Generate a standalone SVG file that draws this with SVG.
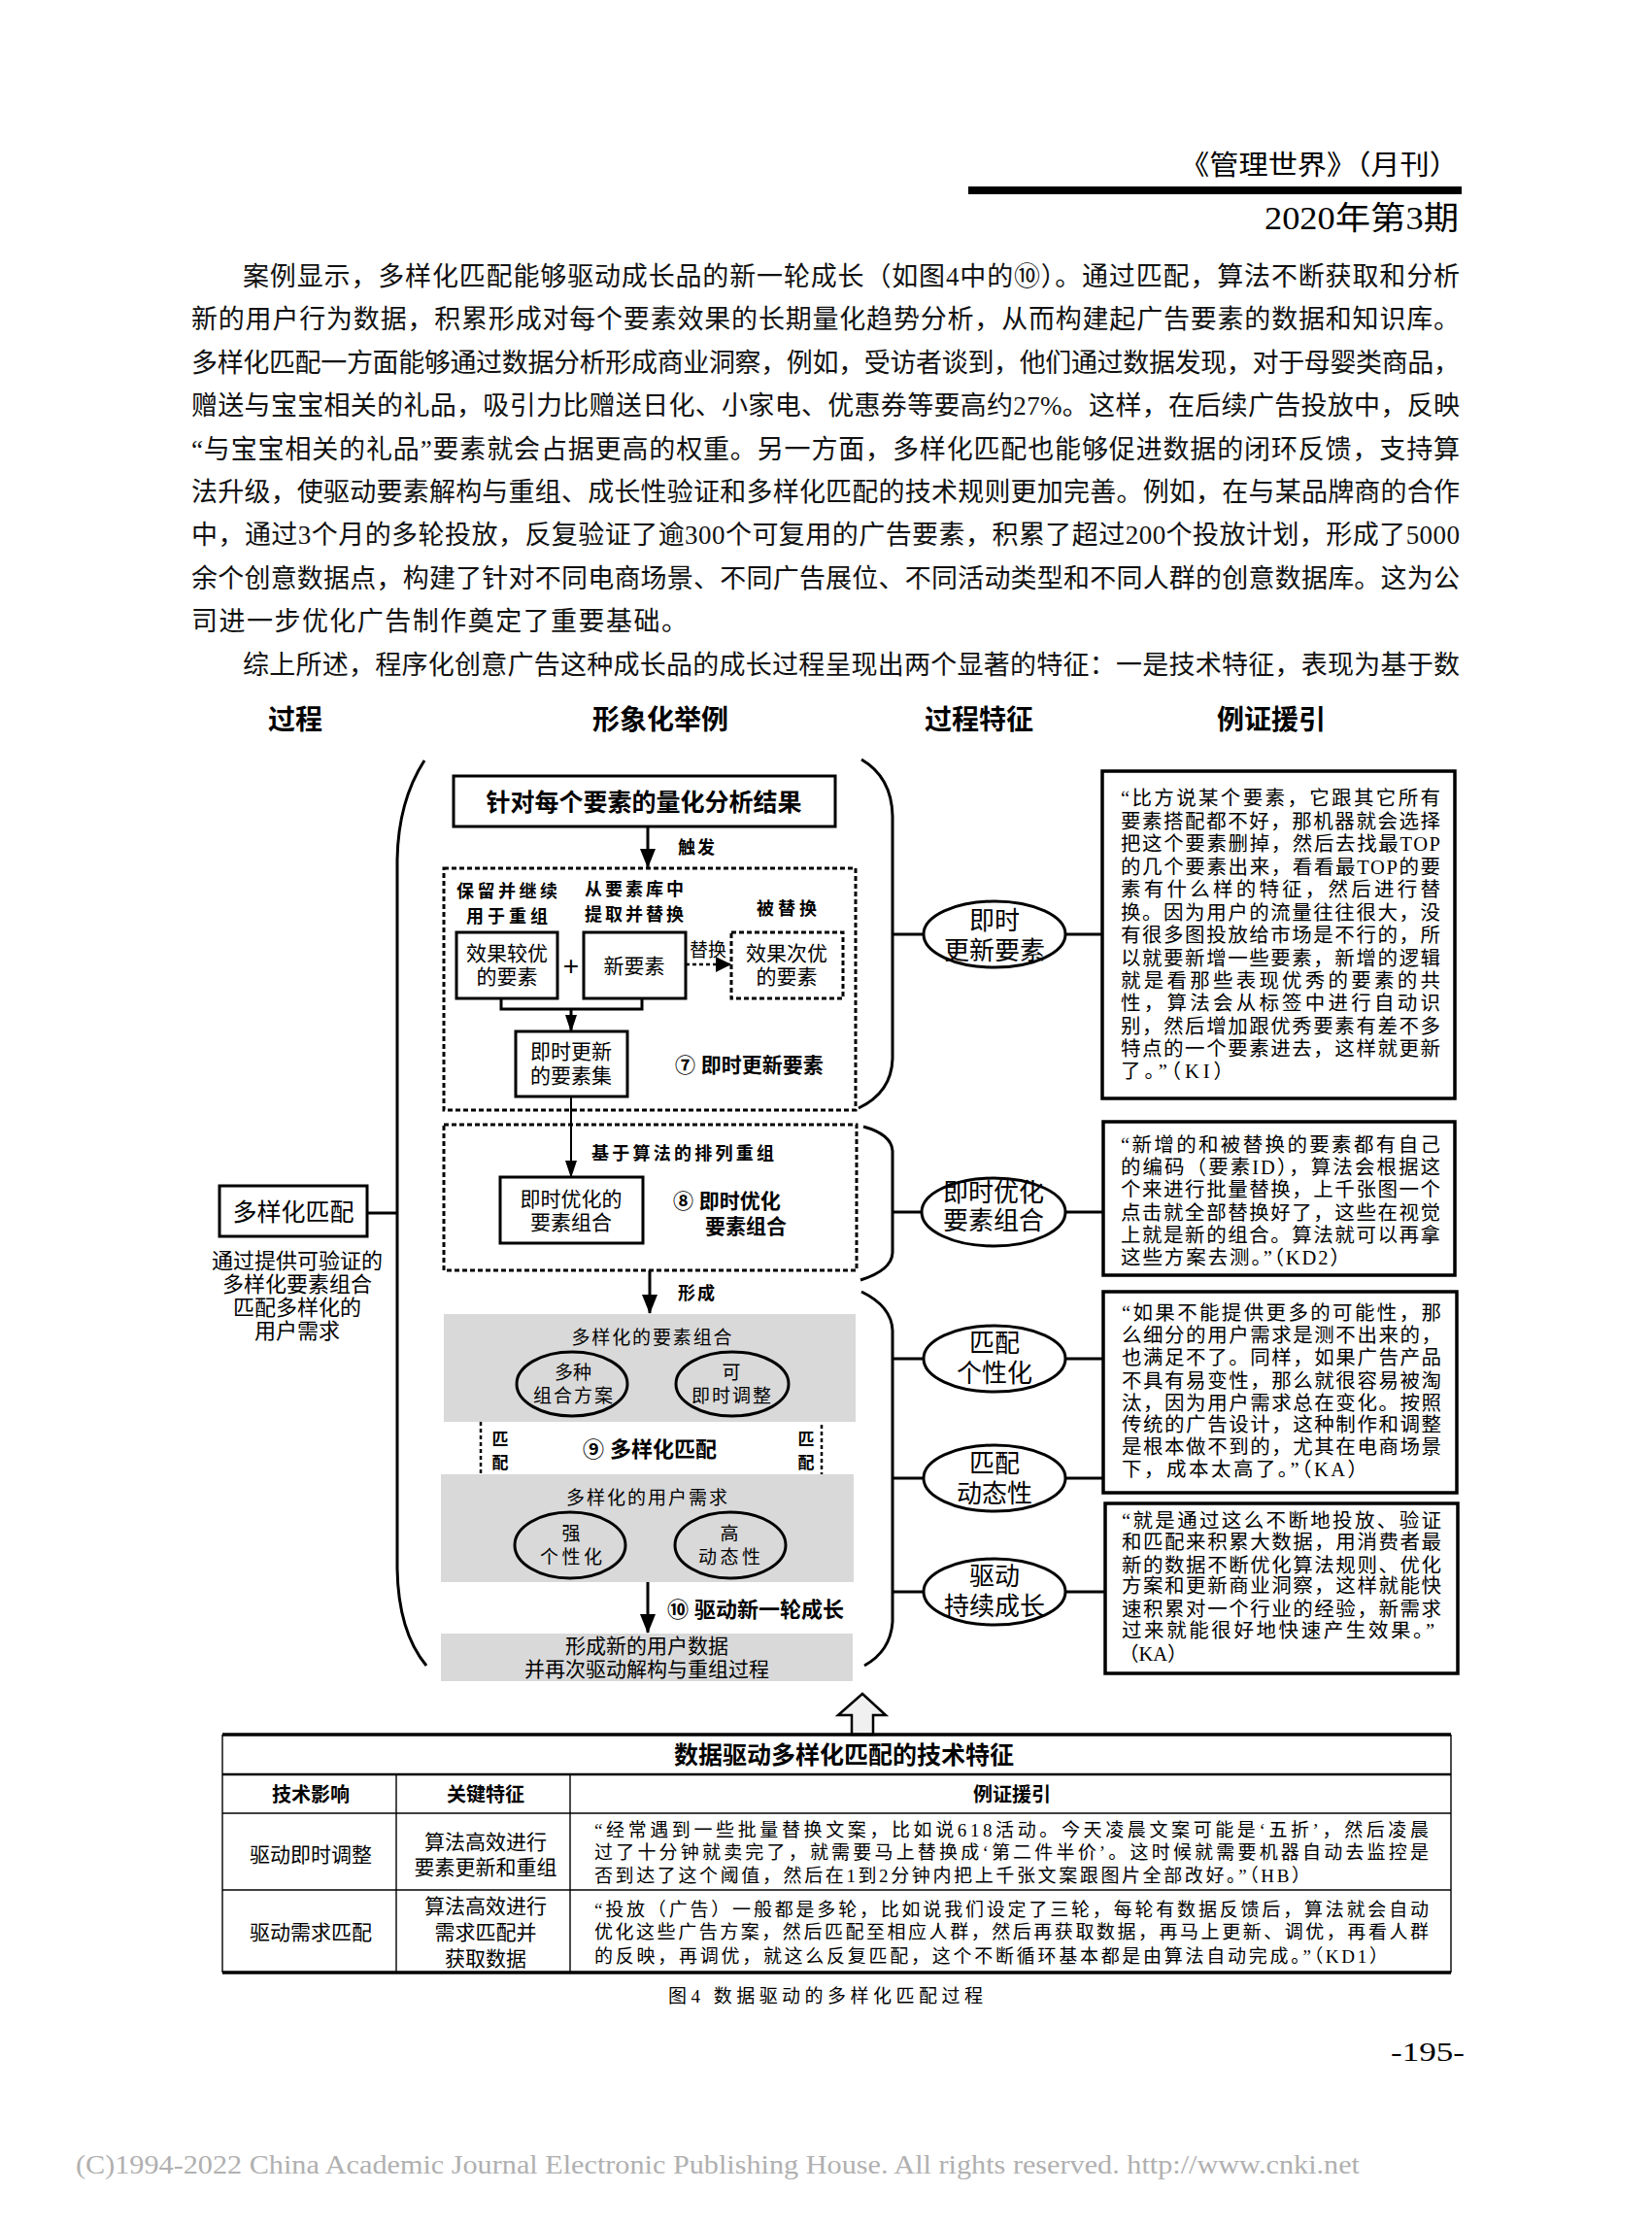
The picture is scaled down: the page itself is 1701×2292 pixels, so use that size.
<svg xmlns="http://www.w3.org/2000/svg" width="1701" height="2292" viewBox="0 0 1701 2292">
<defs>
<style>
.body{font-family:'Liberation Serif','Noto Sans CJK SC',serif;font-size:27px;fill:#111}
.s{font-family:'Liberation Sans','Noto Sans CJK SC',sans-serif;fill:#000}
.sr{font-family:'Liberation Serif','Noto Sans CJK SC',serif;fill:#000}
.b{font-weight:bold}
.m{text-anchor:middle}
.box{fill:#fff;stroke:#000;stroke-width:3}
.qbox{fill:#fff;stroke:#000;stroke-width:3.5}
.dash{fill:none;stroke:#000;stroke-width:3;stroke-dasharray:5 3}
.dot{fill:none;stroke:#000;stroke-width:2.5;stroke-dasharray:4 3}
.ln{fill:none;stroke:#000;stroke-width:3}
.thin{fill:none;stroke:#000;stroke-width:1.4}
.grey{fill:#d9d9d9}
.ell{fill:#fff;stroke:#000;stroke-width:3}
.ellg{fill:#d9d9d9;stroke:#000;stroke-width:3}
.q{font-family:'Liberation Serif','Noto Sans CJK SC',serif;font-size:20.5px;fill:#000}
.tq{font-family:'Liberation Serif','Noto Sans CJK SC',serif;font-size:19px;fill:#000}
</style>
<marker id="aL" viewBox="0 0 20 16" markerWidth="20" markerHeight="16" refX="19" refY="8" orient="auto" markerUnits="userSpaceOnUse"><path d="M0,0 L20,8 L0,16 Z" fill="#000"/></marker>
<marker id="aS" viewBox="0 0 18 12" markerWidth="18" markerHeight="12" refX="17" refY="6" orient="auto" markerUnits="userSpaceOnUse"><path d="M0,0 L18,6 L0,12 Z" fill="#000"/></marker>
<marker id="aD" viewBox="0 0 16 16" markerWidth="16" markerHeight="16" refX="15" refY="8" orient="auto" markerUnits="userSpaceOnUse"><path d="M0,0 L16,8 L0,16 Z" fill="#000"/></marker>
</defs>
<rect width="1701" height="2292" fill="#fff"/>

<g id="page-header">
<text class="sr" x="1502" y="180" font-size="28" text-anchor="end" textLength="287" lengthAdjust="spacingAndGlyphs">《管理世界》（月刊）</text>
<rect x="997" y="192" width="508" height="8" fill="#000"/>
<text class="sr" x="1502" y="236" font-size="33" text-anchor="end" textLength="200" lengthAdjust="spacingAndGlyphs">2020年第3期</text>
</g>

<g id="body-text">
<text class="body" x="250" y="294" textLength="1253" lengthAdjust="spacing">案例显示，多样化匹配能够驱动成长品的新一轮成长（如图4中的⑩）。通过匹配，算法不断获取和分析</text>
<text class="body" x="197" y="338" textLength="1306" lengthAdjust="spacing">新的用户行为数据，积累形成对每个要素效果的长期量化趋势分析，从而构建起广告要素的数据和知识库。</text>
<text class="body" x="197" y="383" textLength="1306" lengthAdjust="spacing">多样化匹配一方面能够通过数据分析形成商业洞察，例如，受访者谈到，他们通过数据发现，对于母婴类商品，</text>
<text class="body" x="197" y="427" textLength="1306" lengthAdjust="spacing">赠送与宝宝相关的礼品，吸引力比赠送日化、小家电、优惠券等要高约27%。这样，在后续广告投放中，反映</text>
<text class="body" x="197" y="472" textLength="1306" lengthAdjust="spacing">“与宝宝相关的礼品”要素就会占据更高的权重。另一方面，多样化匹配也能够促进数据的闭环反馈，支持算</text>
<text class="body" x="197" y="516" textLength="1306" lengthAdjust="spacing">法升级，使驱动要素解构与重组、成长性验证和多样化匹配的技术规则更加完善。例如，在与某品牌商的合作</text>
<text class="body" x="197" y="560" textLength="1306" lengthAdjust="spacing">中，通过3个月的多轮投放，反复验证了逾300个可复用的广告要素，积累了超过200个投放计划，形成了5000</text>
<text class="body" x="197" y="605" textLength="1306" lengthAdjust="spacing">余个创意数据点，构建了针对不同电商场景、不同广告展位、不同活动类型和不同人群的创意数据库。这为公</text>
<text class="body" x="197" y="649" textLength="511" lengthAdjust="spacing">司进一步优化广告制作奠定了重要基础。</text>
<text class="body" x="250" y="694" textLength="1253" lengthAdjust="spacing">综上所述，程序化创意广告这种成长品的成长过程呈现出两个显著的特征：一是技术特征，表现为基于数</text>
</g>

<g id="column-headers">
<text class="s b m" x="304" y="751" font-size="28">过程</text>
<text class="s b m" x="680" y="751" font-size="28">形象化举例</text>
<text class="s b m" x="1008" y="751" font-size="28">过程特征</text>
<text class="s b m" x="1309" y="751" font-size="28">例证援引</text>
</g>

<g id="connectors">
<path class="ln" d="M437,783 Q410,825 409,885 L409,1615 Q410,1680 439,1715"/>
<path class="ln" d="M887,782 Q918,800 919,840 L919,1090 Q918,1125 884,1141"/>
<path class="ln" d="M889,1160 Q918,1168 919,1185 L919,1290 Q918,1308 886,1318"/>
<path class="ln" d="M887,1330 Q918,1345 919,1370 L919,1670 Q917,1700 890,1715"/>
<line class="ln" x1="378" y1="1249" x2="409" y2="1249"/>
<line class="ln" x1="919" y1="962" x2="951" y2="962"/>
<line class="ln" x1="1097" y1="962" x2="1135" y2="962"/>
<line class="ln" x1="919" y1="1248" x2="950" y2="1248"/>
<line class="ln" x1="1097" y1="1248" x2="1136" y2="1248"/>
<line class="ln" x1="919" y1="1399" x2="951" y2="1399"/>
<line class="ln" x1="1098" y1="1399" x2="1136" y2="1399"/>
<line class="ln" x1="919" y1="1522" x2="951" y2="1522"/>
<line class="ln" x1="1098" y1="1522" x2="1136" y2="1522"/>
<line class="ln" x1="919" y1="1639" x2="951" y2="1639"/>
<line class="ln" x1="1098" y1="1639" x2="1138" y2="1639"/>
<line class="ln" x1="667" y1="851" x2="667" y2="893" marker-end="url(#aL)"/>
<path class="ln" d="M516,1028 V1039 H661 V1028"/>
<line class="ln" x1="588" y1="1039" x2="588" y2="1062" marker-end="url(#aS)"/>
<line x1="588" y1="1129" x2="588" y2="1212" stroke="#000" stroke-width="2" marker-end="url(#aS)"/>
<line class="ln" x1="669" y1="1308" x2="669" y2="1352" marker-end="url(#aL)"/>
<line class="ln" x1="667" y1="1629" x2="667" y2="1681" marker-end="url(#aL)"/>
<line class="dot" x1="706" y1="993" x2="752" y2="993" marker-end="url(#aD)"/>
<path class="dot" d="M532,1424 H495 V1588 H529" marker-end="url(#aD)"/>
<path class="dot" d="M812,1424 H846 V1588 H811" marker-end="url(#aD)"/>
<polygon points="888,1744 912,1766 899,1766 899,1786 877,1786 877,1766 863,1766" fill="#f0f0f0" stroke="#000" stroke-width="2.5"/>
</g>

<g id="node-multimatch">
<rect class="box" x="226" y="1221" width="152" height="52"/>
<text class="s m" x="302" y="1257" font-size="25">多样化匹配</text>
<text class="s m" x="306" y="1306" font-size="22">通过提供可验证的</text>
<text class="s m" x="306" y="1330" font-size="22">多样化要素组合</text>
<text class="s m" x="306" y="1354" font-size="22">匹配多样化的</text>
<text class="s m" x="306" y="1378" font-size="22">用户需求</text>
</g>

<g id="node-quant">
<rect class="box" x="467" y="799" width="393" height="52"/>
<text class="s b m" x="663" y="835" font-size="25">针对每个要素的量化分析结果</text>
<text class="s b" x="698" y="879" font-size="18" textLength="38" lengthAdjust="spacing">触发</text>
</g>

<g id="node-step7">
<rect class="dash" x="457" y="894" width="424" height="249"/>
<text class="s b m" x="522" y="924" font-size="18" textLength="104" lengthAdjust="spacing">保留并继续</text>
<text class="s b m" x="522" y="950" font-size="18" textLength="84" lengthAdjust="spacing">用于重组</text>
<text class="s b m" x="653" y="922" font-size="18" textLength="102" lengthAdjust="spacing">从要素库中</text>
<text class="s b m" x="653" y="948" font-size="18" textLength="102" lengthAdjust="spacing">提取并替换</text>
<text class="s b m" x="810" y="942" font-size="18" textLength="62" lengthAdjust="spacing">被替换</text>
<rect class="box" x="470" y="960" width="104" height="68"/>
<text class="s m" x="522" y="989" font-size="21">效果较优</text>
<text class="s m" x="522" y="1013" font-size="21">的要素</text>
<text class="s m" x="588" y="1004" font-size="28">+</text>
<rect class="box" x="601" y="960" width="105" height="68"/>
<text class="s m" x="653" y="1002" font-size="21">新要素</text>
<text class="s m" x="729" y="985" font-size="19">替换</text>
<rect class="dash" x="753" y="960" width="115" height="68"/>
<text class="s m" x="810" y="989" font-size="21">效果次优</text>
<text class="s m" x="810" y="1013" font-size="21">的要素</text>
<rect class="box" x="531" y="1062" width="115" height="67"/>
<text class="s m" x="588" y="1090" font-size="21">即时更新</text>
<text class="s m" x="588" y="1115" font-size="21">的要素集</text>
<text class="s b" x="695" y="1104" font-size="21">⑦ 即时更新要素</text>
</g>

<g id="node-step8">
<rect class="dash" x="457" y="1158" width="425" height="150"/>
<text class="s b" x="609" y="1194" font-size="18" textLength="188" lengthAdjust="spacing">基于算法的排列重组</text>
<rect class="box" x="515" y="1212" width="147" height="68"/>
<text class="s m" x="588" y="1242" font-size="21">即时优化的</text>
<text class="s m" x="588" y="1266" font-size="21">要素组合</text>
<text class="s b" x="693" y="1244" font-size="21">⑧ 即时优化</text>
<text class="s b" x="726" y="1270" font-size="21">要素组合</text>
<text class="s b" x="698" y="1338" font-size="18" textLength="38" lengthAdjust="spacing">形成</text>
</g>

<g id="node-step9">
<rect class="grey" x="457" y="1353" width="424" height="111"/>
<text class="s m" x="671" y="1384" font-size="19" textLength="165" lengthAdjust="spacing">多样化的要素组合</text>
<ellipse class="ellg" cx="589" cy="1425" rx="57" ry="33"/>
<text class="s m" x="590" y="1420" font-size="19">多种</text>
<text class="s m" x="590" y="1444" font-size="19" textLength="82" lengthAdjust="spacing">组合方案</text>
<ellipse class="ellg" cx="754" cy="1425" rx="58" ry="33"/>
<text class="s m" x="753" y="1420" font-size="19">可</text>
<text class="s m" x="753" y="1444" font-size="19" textLength="82" lengthAdjust="spacing">即时调整</text>
<text class="s b m" x="515" y="1488" font-size="17">匹</text>
<text class="s b m" x="515" y="1512" font-size="17">配</text>
<text class="s b m" x="830" y="1488" font-size="17">匹</text>
<text class="s b m" x="830" y="1512" font-size="17">配</text>
<text class="s b" x="600" y="1500" font-size="22">⑨ 多样化匹配</text>
<rect class="grey" x="454" y="1518" width="425" height="111"/>
<text class="s m" x="666" y="1549" font-size="19" textLength="166" lengthAdjust="spacing">多样化的用户需求</text>
<ellipse class="ellg" cx="587" cy="1591" rx="57" ry="34"/>
<text class="s m" x="588" y="1586" font-size="19">强</text>
<text class="s m" x="588" y="1610" font-size="19" textLength="64" lengthAdjust="spacing">个性化</text>
<ellipse class="ellg" cx="752" cy="1591" rx="57" ry="34"/>
<text class="s m" x="751" y="1586" font-size="19">高</text>
<text class="s m" x="751" y="1610" font-size="19" textLength="64" lengthAdjust="spacing">动态性</text>
</g>

<g id="node-step10">
<text class="s b" x="687" y="1665" font-size="22">⑩ 驱动新一轮成长</text>
<rect class="grey" x="454" y="1682" width="424" height="49"/>
<text class="s m" x="666" y="1702" font-size="21">形成新的用户数据</text>
<text class="s m" x="666" y="1726" font-size="21">并再次驱动解构与重组过程</text>
</g>

<g id="node-feature1">
<ellipse class="ell" cx="1024" cy="962" rx="73" ry="34"/>
<text class="s m" x="1024" y="957" font-size="26">即时</text>
<text class="s m" x="1024" y="988" font-size="26">更新要素</text>
</g>
<g id="node-feature2">
<ellipse class="ell" cx="1023" cy="1248" rx="74" ry="35"/>
<text class="s m" x="1023" y="1237" font-size="26">即时优化</text>
<text class="s m" x="1023" y="1266" font-size="26">要素组合</text>
</g>
<g id="node-feature3">
<ellipse class="ell" cx="1024" cy="1399" rx="73" ry="34"/>
<text class="s m" x="1024" y="1392" font-size="26">匹配</text>
<text class="s m" x="1024" y="1423" font-size="26">个性化</text>
</g>
<g id="node-feature4">
<ellipse class="ell" cx="1024" cy="1522" rx="73" ry="34"/>
<text class="s m" x="1024" y="1516" font-size="26">匹配</text>
<text class="s m" x="1024" y="1547" font-size="26">动态性</text>
</g>
<g id="node-feature5">
<ellipse class="ell" cx="1024" cy="1639" rx="73" ry="34"/>
<text class="s m" x="1024" y="1632" font-size="26">驱动</text>
<text class="s m" x="1024" y="1663" font-size="26">持续成长</text>
</g>

<g id="node-quote1">
<rect class="qbox" x="1135" y="794" width="363" height="337"/>
<text class="q" x="1154" y="829" textLength="329" lengthAdjust="spacing">“比方说某个要素，它跟其它所有</text>
<text class="q" x="1154" y="853" textLength="329" lengthAdjust="spacing">要素搭配都不好，那机器就会选择</text>
<text class="q" x="1154" y="876" textLength="329" lengthAdjust="spacing">把这个要素删掉，然后去找最TOP</text>
<text class="q" x="1154" y="900" textLength="329" lengthAdjust="spacing">的几个要素出来，看看最TOP的要</text>
<text class="q" x="1154" y="923" textLength="329" lengthAdjust="spacing">素有什么样的特征，然后进行替</text>
<text class="q" x="1154" y="947" textLength="329" lengthAdjust="spacing">换。因为用户的流量往往很大，没</text>
<text class="q" x="1154" y="970" textLength="329" lengthAdjust="spacing">有很多图投放给市场是不行的，所</text>
<text class="q" x="1154" y="994" textLength="329" lengthAdjust="spacing">以就要新增一些要素，新增的逻辑</text>
<text class="q" x="1154" y="1017" textLength="329" lengthAdjust="spacing">就是看那些表现优秀的要素的共</text>
<text class="q" x="1154" y="1040" textLength="329" lengthAdjust="spacing">性，算法会从标签中进行自动识</text>
<text class="q" x="1154" y="1064" textLength="329" lengthAdjust="spacing">别，然后增加跟优秀要素有差不多</text>
<text class="q" x="1154" y="1087" textLength="329" lengthAdjust="spacing">特点的一个要素进去，这样就更新</text>
<text class="q" x="1154" y="1110" textLength="116" lengthAdjust="spacing">了。”（KI）</text>
</g>

<g id="node-quote2">
<rect class="qbox" x="1136" y="1155" width="362" height="158"/>
<text class="q" x="1154" y="1186" textLength="329" lengthAdjust="spacing">“新增的和被替换的要素都有自己</text>
<text class="q" x="1154" y="1209" textLength="329" lengthAdjust="spacing">的编码（要素ID），算法会根据这</text>
<text class="q" x="1154" y="1232" textLength="329" lengthAdjust="spacing">个来进行批量替换，上千张图一个</text>
<text class="q" x="1154" y="1256" textLength="329" lengthAdjust="spacing">点击就全部替换好了，这些在视觉</text>
<text class="q" x="1154" y="1279" textLength="329" lengthAdjust="spacing">上就是新的组合。算法就可以再拿</text>
<text class="q" x="1154" y="1302" textLength="236" lengthAdjust="spacing">这些方案去测。”（KD2）</text>
</g>

<g id="node-quote3">
<rect class="qbox" x="1136" y="1330" width="364" height="207"/>
<text class="q" x="1155" y="1359" textLength="329" lengthAdjust="spacing">“如果不能提供更多的可能性，那</text>
<text class="q" x="1155" y="1382" textLength="329" lengthAdjust="spacing">么细分的用户需求是测不出来的，</text>
<text class="q" x="1155" y="1405" textLength="329" lengthAdjust="spacing">也满足不了。同样，如果广告产品</text>
<text class="q" x="1155" y="1429" textLength="329" lengthAdjust="spacing">不具有易变性，那么就很容易被淘</text>
<text class="q" x="1155" y="1452" textLength="329" lengthAdjust="spacing">汰，因为用户需求总在变化。按照</text>
<text class="q" x="1155" y="1474" textLength="329" lengthAdjust="spacing">传统的广告设计，这种制作和调整</text>
<text class="q" x="1155" y="1497" textLength="329" lengthAdjust="spacing">是根本做不到的，尤其在电商场景</text>
<text class="q" x="1155" y="1520" textLength="253" lengthAdjust="spacing">下，成本太高了。”（KA）</text>
</g>

<g id="node-quote4">
<rect class="qbox" x="1138" y="1548" width="363" height="175"/>
<text class="q" x="1155" y="1573" textLength="329" lengthAdjust="spacing">“就是通过这么不断地投放、验证</text>
<text class="q" x="1155" y="1595" textLength="329" lengthAdjust="spacing">和匹配来积累大数据，用消费者最</text>
<text class="q" x="1155" y="1619" textLength="329" lengthAdjust="spacing">新的数据不断优化算法规则、优化</text>
<text class="q" x="1155" y="1640" textLength="329" lengthAdjust="spacing">方案和更新商业洞察，这样就能快</text>
<text class="q" x="1155" y="1664" textLength="329" lengthAdjust="spacing">速积累对一个行业的经验，新需求</text>
<text class="q" x="1155" y="1686" textLength="322" lengthAdjust="spacing">过来就能很好地快速产生效果。”</text>
<text class="q" x="1152" y="1710">（KA）</text>
</g>

<g id="node-table">
<line x1="229" y1="1786" x2="1494" y2="1786" stroke="#000" stroke-width="3.5"/>
<line x1="229" y1="1827" x2="1494" y2="1827" stroke="#000" stroke-width="2.5"/>
<line class="thin" x1="229" y1="1867" x2="1494" y2="1867"/>
<line class="thin" x1="229" y1="1946" x2="1494" y2="1946"/>
<line x1="229" y1="2031" x2="1494" y2="2031" stroke="#000" stroke-width="3.5"/>
<line class="thin" x1="229" y1="1786" x2="229" y2="2031"/>
<line class="thin" x1="1494" y1="1786" x2="1494" y2="2031"/>
<line class="thin" x1="408" y1="1827" x2="408" y2="2031"/>
<line class="thin" x1="587" y1="1827" x2="587" y2="2031"/>
<text class="s b m" x="869" y="1816" font-size="25">数据驱动多样化匹配的技术特征</text>
<text class="s b m" x="320" y="1855" font-size="20">技术影响</text>
<text class="s b m" x="500" y="1855" font-size="20">关键特征</text>
<text class="s b m" x="1042" y="1855" font-size="20">例证援引</text>
<text class="s m" x="320" y="1917" font-size="21">驱动即时调整</text>
<text class="s m" x="500" y="1904" font-size="21">算法高效进行</text>
<text class="s m" x="500" y="1930" font-size="21">要素更新和重组</text>
<text class="tq" x="612" y="1891" textLength="859" lengthAdjust="spacing">“经常遇到一些批量替换文案，比如说618活动。今天凌晨文案可能是‘五折’，然后凌晨</text>
<text class="tq" x="612" y="1914" textLength="859" lengthAdjust="spacing">过了十分钟就卖完了，就需要马上替换成‘第二件半价’。这时候就需要机器自动去监控是</text>
<text class="tq" x="612" y="1938" textLength="737" lengthAdjust="spacing">否到达了这个阈值，然后在1到2分钟内把上千张文案跟图片全部改好。”（HB）</text>
<text class="s m" x="320" y="1997" font-size="21">驱动需求匹配</text>
<text class="s m" x="500" y="1970" font-size="21">算法高效进行</text>
<text class="s m" x="500" y="1997" font-size="21">需求匹配并</text>
<text class="s m" x="500" y="2024" font-size="21">获取数据</text>
<text class="tq" x="612" y="1973" textLength="859" lengthAdjust="spacing">“投放（广告）一般都是多轮，比如说我们设定了三轮，每轮有数据反馈后，算法就会自动</text>
<text class="tq" x="612" y="1996" textLength="859" lengthAdjust="spacing">优化这些广告方案，然后匹配至相应人群，然后再获取数据，再马上更新、调优，再看人群</text>
<text class="tq" x="612" y="2021" textLength="817" lengthAdjust="spacing">的反映，再调优，就这么反复匹配，这个不断循环基本都是由算法自动完成。”（KD1）</text>
</g>

<g id="page-footer">
<text class="sr" x="688" y="2062" font-size="19" fill="#555" textLength="324" lengthAdjust="spacing">图4  数据驱动的多样化匹配过程</text>
<text class="sr" x="1432" y="2122" font-size="28" textLength="76" lengthAdjust="spacingAndGlyphs">-195-</text>
<text x="78" y="2238" font-family="'Liberation Serif',serif" font-size="28" fill="#b0b0b0" textLength="1322" lengthAdjust="spacingAndGlyphs">(C)1994-2022 China Academic Journal Electronic Publishing House. All rights reserved.    http://www.cnki.net</text>
</g>
</svg>
